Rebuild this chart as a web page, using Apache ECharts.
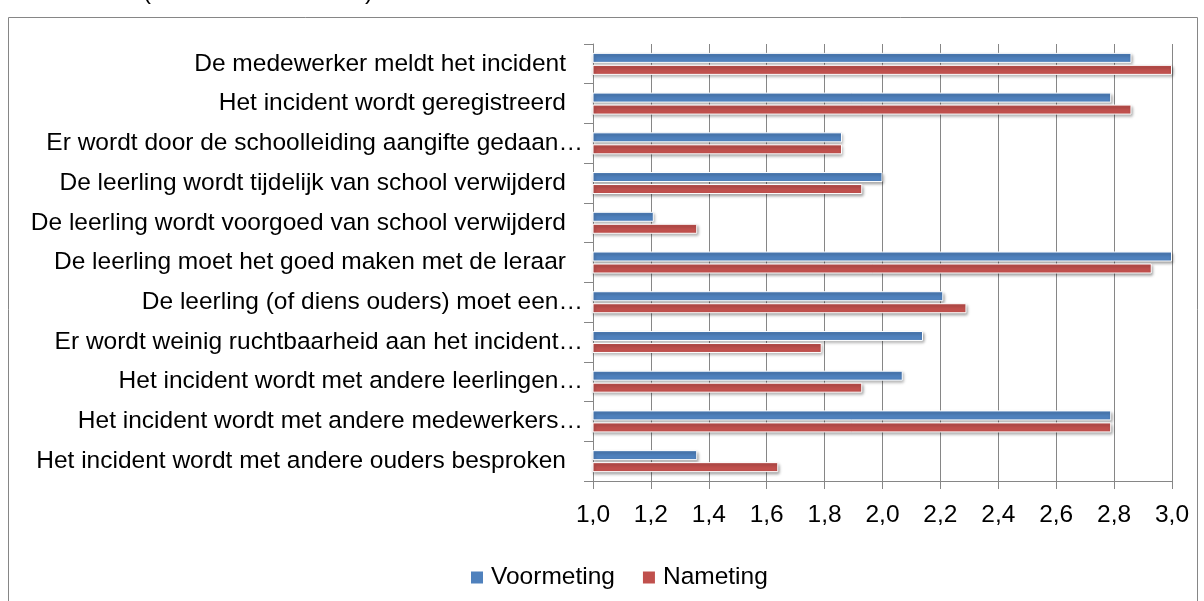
<!DOCTYPE html>
<html>
<head>
<meta charset="utf-8">
<script src="https://cdn.jsdelivr.net/npm/echarts@6/dist/echarts.min.js"></script>
<style>
html,body{margin:0;padding:0;background:#fff;}
#chart{width:1204px;height:601px;}
</style>
</head>
<body>
<div id="chart"></div>
<script>
const categories = [
  "De medewerker meldt het incident",
  "Het incident wordt geregistreerd",
  "Er wordt door de schoolleiding aangifte gedaan…",
  "De leerling wordt tijdelijk van school verwijderd",
  "De leerling wordt voorgoed van school verwijderd",
  "De leerling moet het goed maken met de leraar",
  "De leerling (of diens ouders) moet een…",
  "Er wordt weinig ruchtbaarheid aan het incident…",
  "Het incident wordt met andere leerlingen…",
  "Het incident wordt met andere medewerkers…",
  "Het incident wordt met andere ouders besproken"
];
const voormeting = [2.86, 2.79, 1.86, 2.00, 1.21, 3.00, 2.21, 2.14, 2.07, 2.79, 1.36];
const nameting   = [3.00, 2.86, 1.86, 1.93, 1.36, 2.93, 2.29, 1.79, 1.93, 2.79, 1.64];
const seriesNames = ["Voormeting", "Nameting"];
const axisMin = 1.0, axisMax = 3.0, axisStep = 0.2;

const FONT = "Liberation Sans";
const chart = echarts.init(document.getElementById('chart'), null, {renderer: 'canvas'});
const barStyle = (color) => ({
  color: color,
  borderColor: '#ffffff',
  borderWidth: 1,
  shadowColor: 'rgba(0,0,0,0.35)',
  shadowBlur: 3,
  shadowOffsetX: 1,
  shadowOffsetY: 2
});
chart.setOption({
  animation: false,
  backgroundColor: '#ffffff',
  textStyle: {fontFamily: FONT},
  graphic: [
    {type: 'rect', shape: {x: 8.5, y: 17.5, width: 1189, height: 620}, style: {fill: 'none', stroke: '#868686', lineWidth: 1}, silent: true},
    {type: 'text', x: 143, y: -20, style: {text: '(', fontSize: 24, fontFamily: FONT, fill: '#000'}},
    {type: 'text', x: 365, y: -20, style: {text: ')', fontSize: 24, fontFamily: FONT, fill: '#000'}}
  ],
  legend: {
    data: seriesNames,
    left: 466,
    top: 560,
    itemWidth: 12,
    itemHeight: 12,
    itemGap: 28,
    icon: 'rect',
    itemStyle: {borderWidth: 0, shadowBlur: 0, shadowOffsetX: 0, shadowOffsetY: 0},
    textStyle: {fontSize: 24.5, fontFamily: FONT, color: '#000', padding: [0, 0, 0, 3]}
  },
  grid: {left: 593, right: 32, top: 44, bottom: 120, containLabel: false, outerBoundsMode: 'none'},
  xAxis: {
    type: 'value',
    min: axisMin,
    max: axisMax,
    interval: axisStep,
    axisLine: {show: true, lineStyle: {color: '#868686', width: 1}},
    axisTick: {show: true, length: 8, lineStyle: {color: '#868686'}},
    splitLine: {show: true, lineStyle: {color: '#868686', width: 1}},
    axisLabel: {
      margin: 22,
      fontSize: 24.5,
      fontFamily: FONT,
      color: '#000',
      formatter: (v) => v.toFixed(1).replace('.', ',')
    }
  },
  yAxis: {
    type: 'category',
    data: categories,
    inverse: true,
    axisLine: {show: true, lineStyle: {color: '#868686', width: 1}},
    axisTick: {show: true, length: 9, alignWithLabel: false, lineStyle: {color: '#868686'}},
    splitLine: {show: false},
    axisLabel: {
      margin: 10,
      fontSize: 24.5,
      fontFamily: FONT,
      color: '#000',
      formatter: (v) => v.endsWith('…') ? v : v + '{p| }',
      rich: {p: {width: 17, fontSize: 24.5}}
    }
  },
  series: [
    {name: seriesNames[0], type: 'bar', data: voormeting, barWidth: 10, barGap: '20%', itemStyle: barStyle('#4F81BD')},
    {name: seriesNames[1], type: 'bar', data: nameting, barWidth: 10, barGap: '20%', itemStyle: barStyle('#C0504D')}
  ]
});
</script>
</body>
</html>
